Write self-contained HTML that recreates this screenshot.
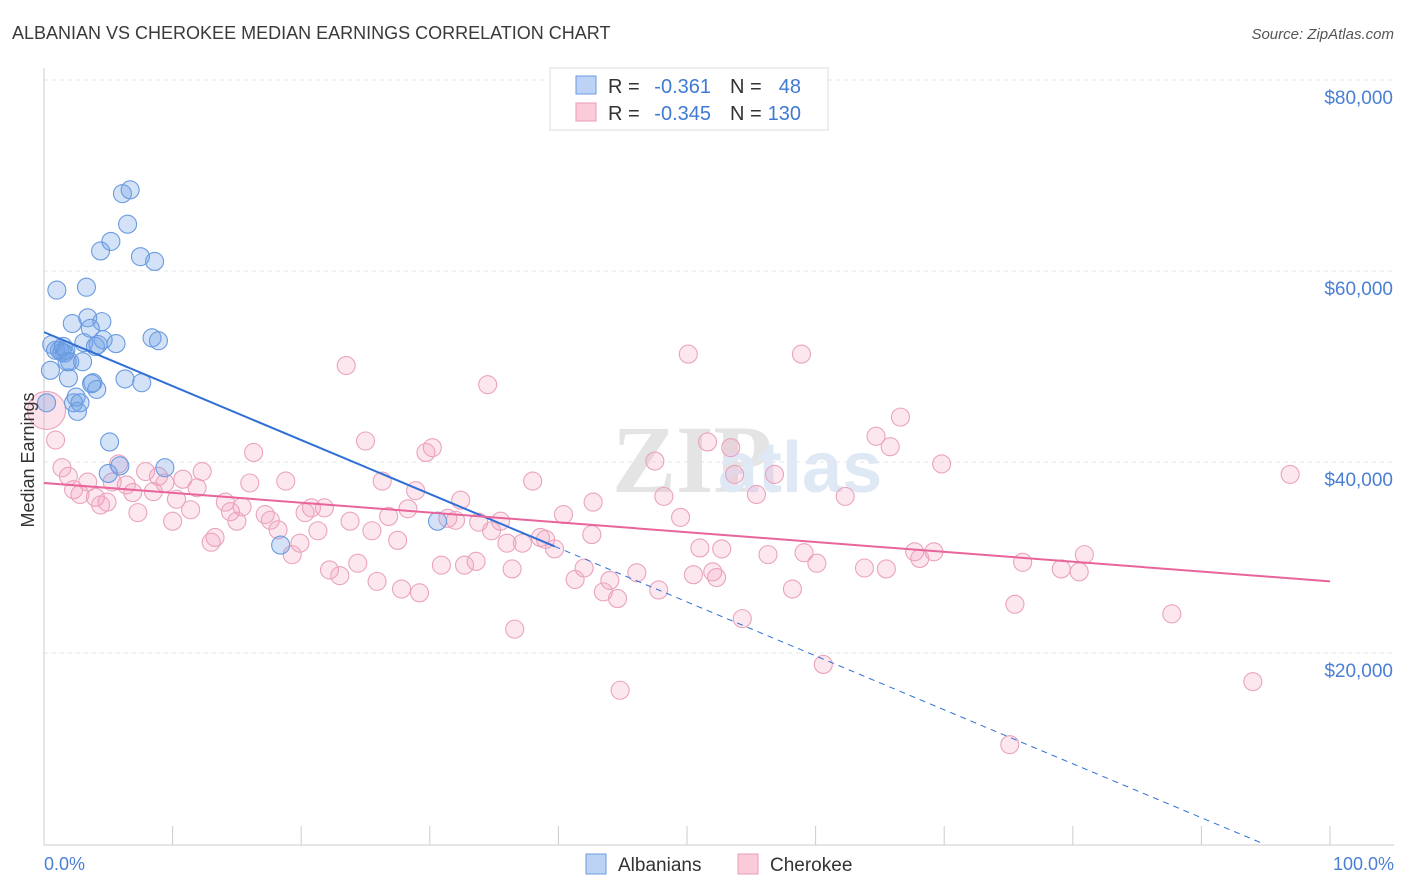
<!DOCTYPE html>
<html><head><meta charset="utf-8"><style>
body{margin:0;background:#fff;font-family:"Liberation Sans",sans-serif;}
svg{display:block}
</style></head><body>
<svg id="chart" width="1406" height="892">
<text x="12" y="39" font-size="18" fill="#3a3a3a">ALBANIAN VS CHEROKEE MEDIAN EARNINGS CORRELATION CHART</text>
<text x="1394" y="39" font-size="15" fill="#555" font-style="italic" text-anchor="end">Source: ZipAtlas.com</text>
<text x="612" y="492" font-size="96" fill="#e4e4e4" font-family="Liberation Serif" font-weight="bold">ZIP</text>
<text x="718" y="492" font-size="72" fill="#dfe9f6" font-weight="bold">atlas</text>
<g id="grid"></g>
<g id="axes"></g>
<g id="pts"></g>
<g id="trends"></g>
<text transform="translate(34,460) rotate(-90)" font-size="18" fill="#333" text-anchor="middle">Median Earnings</text>
<text x="44" y="870" font-size="18" fill="#4a7fd4">0.0%</text>
<text x="1394" y="870" font-size="18" fill="#4a7fd4" text-anchor="end">100.0%</text>
<g>
<rect x="550" y="68" width="278" height="62" fill="#fff" stroke="#ddd"/>
<rect x="576" y="76" width="20" height="18" fill="#bcd3f5" stroke="#6a9be0"/>
<rect x="576" y="103" width="20" height="18" fill="#fbcbda" stroke="#e898b5"/>
<text x="608" y="93" font-size="20" fill="#333">R =</text>
<text x="711" y="93" font-size="20" fill="#3f7ad3" text-anchor="end">-0.361</text>
<text x="730" y="93" font-size="20" fill="#333">N =</text>
<text x="801" y="93" font-size="20" fill="#3f7ad3" text-anchor="end">48</text>
<text x="608" y="120" font-size="20" fill="#333">R =</text>
<text x="711" y="120" font-size="20" fill="#3f7ad3" text-anchor="end">-0.345</text>
<text x="730" y="120" font-size="20" fill="#333">N =</text>
<text x="801" y="120" font-size="20" fill="#3f7ad3" text-anchor="end">130</text>
</g>
<g>
<rect x="586" y="854" width="20" height="20" fill="#bcd3f5" stroke="#6a9be0"/>
<text x="618" y="871" font-size="19" fill="#333">Albanians</text>
<rect x="738" y="854" width="20" height="20" fill="#fbcbda" stroke="#e898b5"/>
<text x="770" y="871" font-size="19" fill="#333">Cherokee</text>
</g>
</svg>
<script>
const yTicks=[20000,40000,60000,80000];
const yTickLabels=["$20,000","$40,000","$60,000","$80,000"];
const xTicks=[0,10,20,30,40,50,60,70,80,90,100];
const blueX=[0.2,0.6,1.0,1.2,1.4,1.6,1.8,1.9,2.0,2.2,2.3,2.5,2.6,3.0,3.1,3.3,3.4,3.6,3.8,4.0,4.1,4.4,4.5,4.6,5.1,5.2,5.6,5.9,6.1,6.3,6.5,6.7,7.5,7.6,8.4,8.6,8.9,9.4,5.0,18.4,30.6,0.9,0.5,1.5,4.2,2.8,3.7,1.7];
const blueY=[46.2,52.3,58.0,51.7,51.5,51.4,50.5,48.8,50.5,54.5,46.2,46.8,45.3,50.5,52.5,58.3,55.1,54.0,48.3,52.1,47.6,62.1,54.7,52.8,42.1,63.1,52.4,39.6,68.1,48.7,64.9,68.5,61.5,48.3,53.0,61.0,52.7,39.4,38.8,31.3,33.8,51.7,49.6,52.1,52.3,46.2,48.2,51.7];
const pinkX=[0.9,1.4,1.9,2.3,2.8,3.4,4.0,4.4,4.9,5.3,5.8,6.4,6.9,7.3,7.9,8.5,8.9,9.4,10.0,10.3,10.8,11.4,11.9,12.3,13.0,13.3,14.1,14.5,15.0,15.4,16.0,16.3,17.2,17.6,18.2,18.8,19.3,19.9,20.3,20.8,21.3,21.8,22.2,23.0,23.5,23.8,24.4,25.0,25.5,25.9,26.3,26.8,27.5,27.8,28.3,28.9,29.2,29.7,30.2,30.9,31.4,32.0,32.4,32.7,33.6,33.8,34.5,34.8,35.5,36.0,36.4,36.6,37.2,38.0,38.6,39.0,39.7,40.4,41.3,42.0,42.6,42.7,43.5,44.0,44.6,44.8,46.1,47.5,47.8,48.2,49.5,50.1,50.5,51.0,51.6,52.0,52.3,52.7,53.4,53.7,54.3,55.4,56.3,56.8,58.2,58.9,59.1,60.1,60.6,62.3,63.8,64.7,65.5,65.8,66.6,67.7,68.1,69.2,69.8,75.1,75.5,76.1,79.1,80.5,80.9,87.7,94.0,96.9];
const pinkY=[42.3,39.4,38.5,37.1,36.6,37.9,36.3,35.5,35.8,37.9,39.8,37.6,36.8,34.7,39.0,36.9,38.5,37.8,33.8,36.1,38.2,35.0,37.3,39.0,31.6,32.1,35.8,34.8,33.8,35.3,37.8,41.0,34.5,33.9,32.9,38.0,30.3,31.5,34.7,35.2,32.8,35.2,28.7,28.1,50.1,33.8,29.4,42.2,32.8,27.5,38.0,34.3,31.8,26.7,35.1,37.0,26.3,41.0,41.5,29.2,34.1,33.9,36.0,29.2,29.6,33.7,48.1,32.8,33.8,31.5,28.8,22.5,31.5,38.0,32.1,31.9,30.9,34.5,27.7,28.9,32.4,35.8,26.4,27.6,25.7,16.1,28.4,40.1,26.6,36.4,34.2,51.3,28.2,31.0,42.1,28.5,27.9,30.9,41.5,38.7,23.6,36.6,30.3,38.7,26.7,51.3,30.5,29.4,18.8,36.4,28.9,42.7,28.8,41.6,44.7,30.6,29.9,30.6,39.8,10.4,25.1,29.5,28.8,28.5,30.3,24.1,17.0,38.7];
const pinkBigX=[0.2], pinkBigY=[45.4];
const blueTrend=[53.6,-0.565], blueSolidEnd=39.7;
const pinkTrend=[37.8,-0.103];
const NS="http://www.w3.org/2000/svg";
const X=v=>44+v*12.86, Y=k=>844-k*9.55;
function mk(t,a,p){const e=document.createElementNS(NS,t);for(const k in a)e.setAttribute(k,a[k]);p.appendChild(e);return e;}
const grid=document.getElementById('grid'),axes=document.getElementById('axes'),pts=document.getElementById('pts'),tr=document.getElementById('trends');
yTicks.forEach((t,i)=>{const y=Y(t/1000);
const l=mk('line',{x1:44,x2:1394,y1:y,y2:y,stroke:'#e6e6e6','stroke-dasharray':'4,4'},grid);


const tx=mk('text',{x:1393,y:y+24,'font-size':19,fill:'#4a7fd4','text-anchor':'end'},grid);tx.textContent=yTickLabels[i];

});
const ax=mk('line',{x1:44,x2:1394,y1:845,y2:845,stroke:'#ccc'},axes);


const ay=mk('line',{x1:44,x2:44,y1:68,y2:845,stroke:'#ccc'},axes);


xTicks.forEach(t=>{const tk=mk('line',{x1:X(t),x2:X(t),y1:826,y2:845,stroke:'#ccc'},axes);

});
pinkX.forEach((x,i)=>{const c=mk('circle',{cx:X(x),cy:Y(pinkY[i]),r:9,fill:'rgba(244,160,190,0.25)',stroke:'#eba3bd','stroke-width':1.1},pts);

});
pinkBigX.forEach((x,i)=>{const c=mk('circle',{cx:X(x),cy:Y(pinkBigY[i]),r:19,fill:'rgba(244,160,190,0.3)',stroke:'#eba3bd','stroke-width':1.1},pts);

});
blueX.forEach((x,i)=>{const c=mk('circle',{cx:X(x),cy:Y(blueY[i]),r:9,fill:'rgba(110,160,230,0.3)',stroke:'#6a9be0','stroke-width':1.1},pts);

});
const bz=-blueTrend[0]/blueTrend[1];
const b1=mk('line',{x1:X(0),y1:Y(blueTrend[0]),x2:X(blueSolidEnd),y2:Y(blueTrend[0]+blueTrend[1]*blueSolidEnd),stroke:'#2f6fd6','stroke-width':2},tr);


const b2=mk('line',{x1:X(blueSolidEnd),y1:Y(blueTrend[0]+blueTrend[1]*blueSolidEnd),x2:X(bz),y2:Y(0),stroke:'#2f6fd6','stroke-width':1,'stroke-dasharray':'6,5'},tr);


const p1=mk('line',{x1:X(0),y1:Y(pinkTrend[0]),x2:X(100),y2:Y(pinkTrend[0]+pinkTrend[1]*100),stroke:'#e8649a','stroke-width':2},tr);


</script>
</body></html>
